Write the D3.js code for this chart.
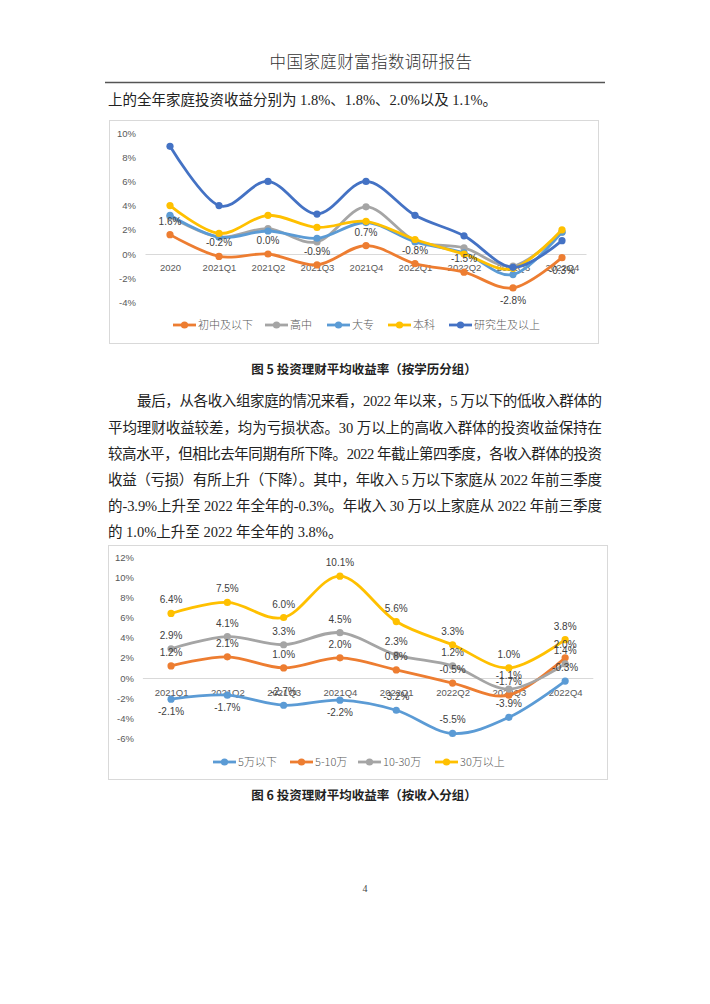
<!DOCTYPE html>
<html><head><meta charset="utf-8">
<script src="https://cdn.jsdelivr.net/npm/d3@7"></script>
<style>html,body{margin:0;padding:0;background:#fff;}svg{display:block;}</style>
</head><body>
<svg id="page" width="710" height="1004"></svg>
<script>
// ---------- DATA ----------
const eduCategories = ["2020","2021Q1","2021Q2","2021Q3","2021Q4","2022Q1","2022Q2","2022Q3","2022Q4"];
const eduNames = ["初中及以下","高中","大专","本科","研究生及以上"];
const eduMiddle = [1.6,-0.2,0.0,-0.9,0.7,-0.8,-1.5,-2.8,-0.3];
const eduHighSchool = [3.1,1.4,2.1,1.0,3.9,1.1,0.5,-1.0,1.8];
const eduJunior = [3.2,1.4,1.9,1.3,2.6,1.0,0.1,-1.7,1.8];
const eduBachelor = [4.0,1.7,3.2,2.2,2.7,1.2,0.0,-1.2,2.0];
const eduGraduate = [8.9,4.0,6.0,3.3,6.0,3.2,1.5,-1.1,1.1];
const eduLabelSide = ["a","a","a","a","a","a","a","b","b"];
const eduTicks = [-4,-2,0,2,4,6,8,10];

const incCategories = ["2021Q1","2021Q2","2021Q3","2021Q4","2022Q1","2022Q2","2022Q3","2022Q4"];
const incNames = ["5万以下","5-10万","10-30万","30万以上"];
const incBelow5 = [-2.1,-1.7,-2.7,-2.2,-3.2,-5.5,-3.9,-0.3];
const inc5to10 = [1.2,2.1,1.0,2.0,0.8,-0.5,-1.7,2.0];
const inc10to30 = [2.9,4.1,3.3,4.5,2.3,1.2,-1.1,1.4];
const incAbove30 = [6.4,7.5,6.0,10.1,5.6,3.3,1.0,3.8];
const incBelow5Side = ["b","b","a","b","a","a","a","a"];
const incTicks = [-6,-4,-2,0,2,4,6,8,10,12];

const headerText = "中国家庭财富指数调研报告";
const topLine = "上的全年家庭投资收益分别为 1.8%、1.8%、2.0%以及 1.1%。";
const paraLines = [
  "最后，从各收入组家庭的情况来看，2022 年以来，5 万以下的低收入群体的",
  "平均理财收益较差，均为亏损状态。30 万以上的高收入群体的投资收益保持在",
  "较高水平，但相比去年同期有所下降。2022 年截止第四季度，各收入群体的投资",
  "收益（亏损）有所上升（下降）。其中，年收入 5 万以下家庭从 2022 年前三季度",
  "的-3.9%上升至 2022 年全年的-0.3%。年收入 30 万以上家庭从 2022 年前三季度",
  "的 1.0%上升至 2022 年全年的 3.8%。"
];
const caption5 = "图 5 投资理财平均收益率（按学历分组）";
const caption6 = "图 6 投资理财平均收益率（按收入分组）";
const pageNumber = "4";

// ---------- STYLE ----------
const C = {orange:"#ED7D31", gray:"#A5A5A5", lblue:"#5B9BD5", yellow:"#FFC000", dblue:"#4472C4"};
const serif = "'Liberation Serif','Noto Sans CJK SC',serif";
const sans = "'Liberation Sans','Noto Sans CJK SC',sans-serif";
const cjk = "'Noto Sans CJK SC',sans-serif";

const svg = d3.select("#page");
svg.append("rect").attr("width",710).attr("height",1004).attr("fill","#fff");

// header
svg.append("text").attr("x",371).attr("y",68).attr("text-anchor","middle")
  .attr("font-family",cjk).attr("font-size",16.5).attr("fill","#333").attr("font-weight",300)
  .attr("letter-spacing",0.4).text(headerText);
svg.append("line").attr("x1",105).attr("x2",605).attr("y1",82.5).attr("y2",82.5)
  .attr("stroke","#555").attr("stroke-width",1.6);
svg.append("text").attr("x",108).attr("y",105).attr("font-family",serif).attr("font-size",14.5)
  .attr("fill","#222").text(topLine);

// paragraph
const paraY = [406,432.5,458.5,484.5,510.5,536.5];
paraLines.forEach((t,i)=>{
  const x0 = i===0 ? 137 : 108;
  const el = svg.append("text").attr("x",x0).attr("y",paraY[i]).attr("font-family",serif)
    .attr("font-size",14.5).attr("fill","#222").text(t);
  if(i<paraLines.length-1){ el.attr("textLength",602-x0).attr("lengthAdjust","spacing"); }
});

// captions & page number
[[caption5,374],[caption6,800]].forEach(([t,y])=>{
  svg.append("text").attr("x",364).attr("y",y).attr("text-anchor","middle").attr("font-family",cjk)
    .attr("font-size",12.5).attr("font-weight",700).attr("fill","#222").text(t);
});
svg.append("text").attr("x",365).attr("y",892).attr("text-anchor","middle").attr("font-family",serif)
  .attr("font-size",10).attr("fill","#444").text(pageNumber);

// ---------- CHART FUNCTION ----------
function drawChart(cfg){
  const g = svg.append("g");
  g.append("rect").attr("x",cfg.frame[0]+0.5).attr("y",cfg.frame[1]+0.5)
    .attr("width",cfg.frame[2]-cfg.frame[0]).attr("height",cfg.frame[3]-cfg.frame[1])
    .attr("fill","#fff").attr("stroke","#d9d9d9");
  const x = d3.scalePoint().domain(cfg.cats).range(cfg.xRange).padding(0.5);
  const y = d3.scaleLinear().domain(cfg.yDomain).range(cfg.yRange);
  // zero line
  g.append("line").attr("x1",cfg.xRange[0]).attr("x2",cfg.xRange[1])
    .attr("y1",Math.round(y(0))+0.5).attr("y2",Math.round(y(0))+0.5).attr("stroke","#d9d9d9");
  // y axis
  const ya = d3.axisLeft(y).tickValues(cfg.ticks).tickFormat(d=>d+"%").tickSize(0).tickPadding(0);
  const yg = g.append("g").attr("transform",`translate(${cfg.yLabelX},0)`).call(ya);
  yg.select(".domain").remove();
  yg.selectAll("text").attr("font-family",sans).attr("font-size",9.5).attr("fill","#595959");
  // x axis labels (at zero line)
  const xa = d3.axisBottom(x).tickSize(0).tickPadding(0);
  const xg = g.append("g").attr("transform",`translate(0,${cfg.xLabelY})`).call(xa);
  xg.select(".domain").remove();
  xg.selectAll("text").attr("font-family",sans).attr("font-size",9.5).attr("fill","#595959").attr("dy","0.32em");
  // lines
  const line = d3.line().x((d,i)=>x(cfg.cats[i])).y(d=>y(d)).curve(d3.curveCatmullRom.alpha(0));
  cfg.series.forEach(s=>{
    g.append("path").datum(s.values).attr("d",line).attr("fill","none").attr("stroke",s.color)
      .attr("stroke-width",2.8).attr("stroke-linecap","round").attr("stroke-linejoin","round");
    g.selectAll(null).data(s.values).join("circle").attr("cx",(d,i)=>x(cfg.cats[i])).attr("cy",d=>y(d))
      .attr("r",3.6).attr("fill",s.color);
  });
  // labels
  cfg.series.forEach(s=>{
    if(!s.labels) return;
    g.selectAll(null).data(s.values).join("text")
      .attr("x",(d,i)=>x(cfg.cats[i])).attr("y",(d,i)=>y(d)+((s.side&&s.side[i]==="b")?16:-10))
      .attr("text-anchor","middle").attr("font-family",sans).attr("font-size",10).attr("fill","#404040")
      .text(d=>d.toFixed(1)+"%");
  });
  // legend
  cfg.series.forEach((s,i)=>{
    const lx = cfg.legendX[i], ly = cfg.legendY;
    g.append("line").attr("x1",lx).attr("x2",lx+23).attr("y1",ly).attr("y2",ly)
      .attr("stroke",s.color).attr("stroke-width",2.8);
    g.append("circle").attr("cx",lx+11.5).attr("cy",ly).attr("r",3.6).attr("fill",s.color);
    g.append("text").attr("x",lx+25).attr("y",ly).attr("dy","0.36em").attr("font-family",cjk)
      .attr("font-size",11).attr("fill","#595959").attr("font-weight",300).text(s.name);
  });
}

drawChart({
  frame:[109,120,598,343],
  cats:eduCategories, xRange:[145.5,586.5], yDomain:[0,10], yRange:[254,133],
  ticks:eduTicks, yLabelX:136, xLabelY:268, legendY:325,
  legendX:[173,265,327,388,449],
  series:[
    {name:eduNames[0],values:eduMiddle,color:C.orange,labels:true,side:eduLabelSide},
    {name:eduNames[1],values:eduHighSchool,color:C.gray},
    {name:eduNames[2],values:eduJunior,color:C.lblue},
    {name:eduNames[3],values:eduBachelor,color:C.yellow},
    {name:eduNames[4],values:eduGraduate,color:C.dblue}
  ]
});

drawChart({
  frame:[108,545,607,779],
  cats:incCategories, xRange:[142.9,593.3], yDomain:[0,12], yRange:[678,557],
  ticks:incTicks, yLabelX:134, xLabelY:693, legendY:762,
  legendX:[213,290,358,435],
  series:[
    {name:incNames[0],values:incBelow5,color:C.lblue,labels:true,side:incBelow5Side},
    {name:incNames[1],values:inc5to10,color:C.orange,labels:true},
    {name:incNames[2],values:inc10to30,color:C.gray,labels:true},
    {name:incNames[3],values:incAbove30,color:C.yellow,labels:true}
  ]
});
</script>
</body></html>
